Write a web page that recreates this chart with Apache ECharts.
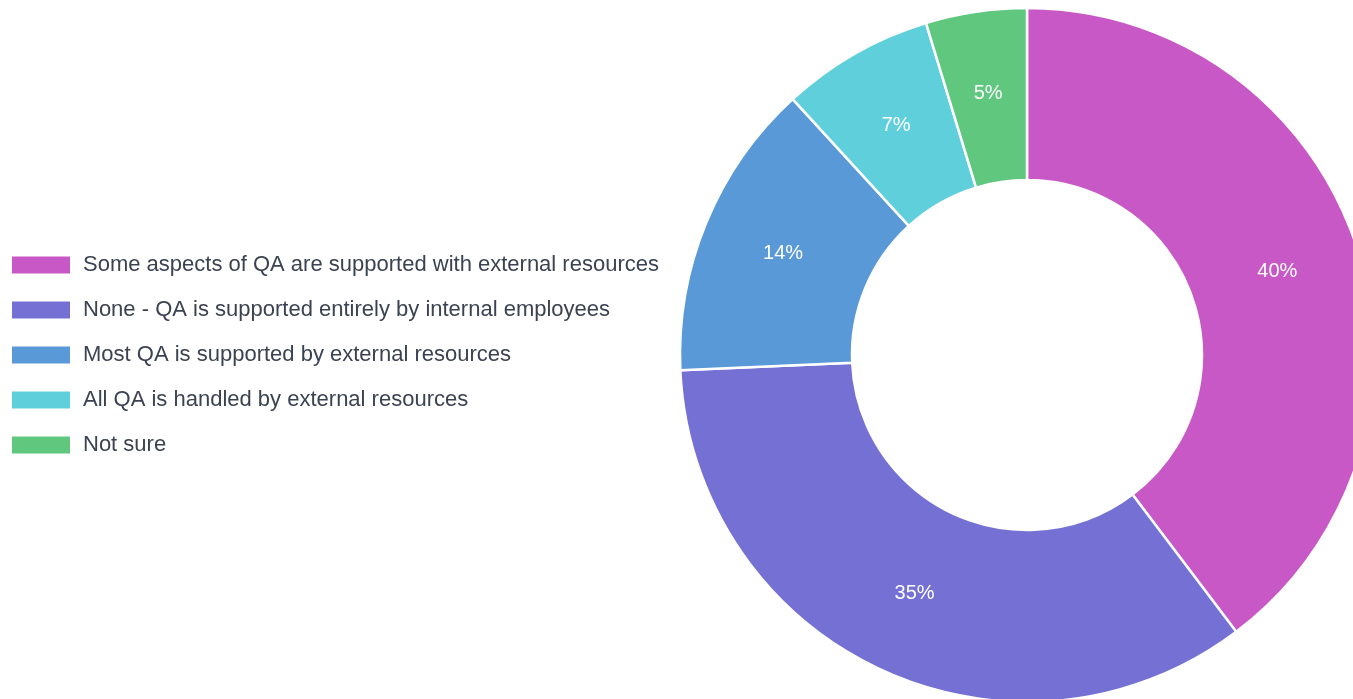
<!DOCTYPE html>
<html>
<head>
<meta charset="utf-8">
<script src="https://cdn.jsdelivr.net/npm/echarts@6/dist/echarts.min.js"></script>
<style>
html,body{margin:0;padding:0;background:#fff;}
#chart{width:1353px;height:699px;}
</style>
</head>
<body>
<div id="chart"></div>
<script>
const categories = [
  "Some aspects of QA are supported with external resources",
  "None - QA is supported entirely by internal employees",
  "Most QA is supported by external resources",
  "All QA is handled by external resources",
  "Not sure"
];
const values = [39.7, 34.6, 13.9, 7.1, 4.7];
const colors = ["#c858c5", "#7470d4", "#5a99d7", "#5fcfdb", "#5fc87e"];

const chart = echarts.init(document.getElementById('chart'));
chart.setOption({
  animation: false,
  color: colors,
  legend: {
    orient: 'vertical',
    left: 5,
    top: 249,
    itemWidth: 60,
    itemHeight: 19,
    itemGap: 23,
    icon: 'rect',
    textStyle: {
      fontFamily: 'Liberation Sans, Arial, sans-serif',
      fontSize: 22,
      lineHeight: 19,
      color: '#3b4252',
      padding: [0, 0, 0, 7]
    },
    data: categories
  },
  series: [{
    type: 'pie',
    center: [1027, 355],
    radius: [175, 347],
    startAngle: 90,
    clockwise: true,
    percentPrecision: 2,
    itemStyle: { borderColor: '#fff', borderWidth: 2.5 },
    label: {
      show: true,
      position: 'inside',
      formatter: p => Math.round(p.percent) + '%',
      color: '#fff',
      fontSize: 20,
      fontFamily: 'Liberation Sans, Arial, sans-serif'
    },
    labelLine: { show: false },
    emphasis: { disabled: true },
    data: categories.map((c, i) => ({ name: c, value: values[i] }))
  }]
});
</script>
</body>
</html>
